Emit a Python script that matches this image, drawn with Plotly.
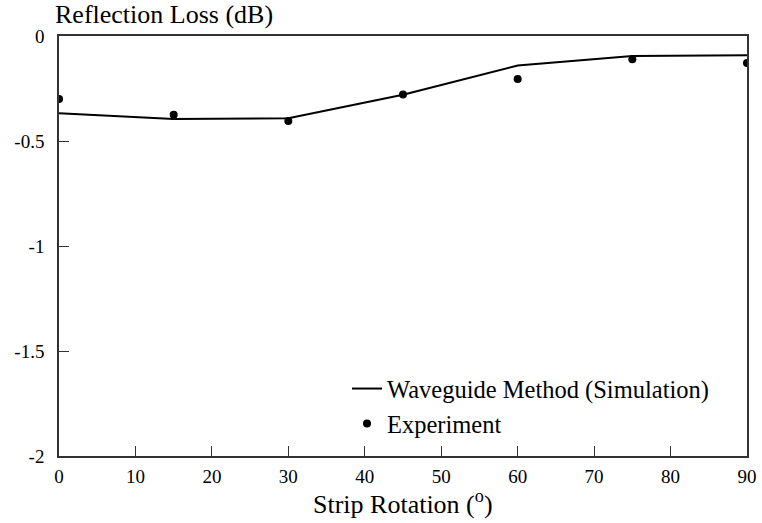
import plotly.graph_objects as go

rotation = [0, 15, 30, 45, 60, 75, 90]
sim_loss = [-0.368, -0.395, -0.392, -0.280, -0.141, -0.095, -0.092]
exp_loss = [-0.300, -0.375, -0.405, -0.278, -0.205, -0.111, -0.129]

x_ticks = [0, 10, 20, 30, 40, 50, 60, 70, 80, 90]
y_ticks = [0, -0.5, -1, -1.5, -2]
y_tick_text = ["0", "-0.5", "-1", "-1.5", "-2"]

FONT = "'Liberation Serif', 'Times New Roman', 'DejaVu Serif', serif"

fig = go.Figure()
fig.add_trace(go.Scatter(x=rotation, y=sim_loss, mode="lines",
                         name="Waveguide Method (Simulation)",
                         line=dict(color="black", width=2)))
fig.add_trace(go.Scatter(x=rotation, y=exp_loss, mode="markers",
                         name="Experiment",
                         marker=dict(color="black", size=8)))

fig.update_layout(
    width=762, height=523,
    margin=dict(l=59, r=15, t=36, b=67, autoexpand=False),
    paper_bgcolor="white", plot_bgcolor="white",
    font=dict(family=FONT, color="black", size=19),
    showlegend=True,
    legend=dict(x=(347 - 59) / 688, xanchor="left", y=0.214, yanchor="top",
                font=dict(size=24.5, family=FONT), bgcolor="rgba(0,0,0,0)",
                tracegroupgap=0),
    annotations=[
        dict(text="Reflection Loss (dB)", xref="paper", yref="paper",
             x=(53 - 59) / 688, xanchor="left", y=1 + (36 - 15) / 420,
             yanchor="middle", showarrow=False,
             font=dict(size=26, family=FONT)),
        dict(text="Strip Rotation (<sup>o</sup>)", xref="paper", yref="paper",
             x=0.5, xanchor="center", y=-(502 - 456) / 420,
             yanchor="middle", showarrow=False,
             font=dict(size=26, family=FONT)),
    ],
)

fig.update_xaxes(range=[0, 90], tickvals=x_ticks, ticks="inside", ticklen=10,
                 tickcolor="#333", showgrid=False, zeroline=False,
                 showline=True, linecolor="#333", linewidth=1.5, mirror=True,
                 ticklabelstandoff=2, tickfont=dict(size=19, family=FONT),
                 automargin=False)
fig.update_yaxes(range=[-2, 0], tickvals=y_ticks, ticktext=y_tick_text,
                 ticks="inside", ticklen=10, tickcolor="#333",
                 showgrid=False, zeroline=False,
                 showline=True, linecolor="#333", linewidth=1.5, mirror=True,
                 ticklabelstandoff=9, tickfont=dict(size=19, family=FONT),
                 automargin=False)

fig.write_html("out.html", config={"displayModeBar": False},
               post_script="document.body.style.margin='0';document.body.style.padding='0';")
